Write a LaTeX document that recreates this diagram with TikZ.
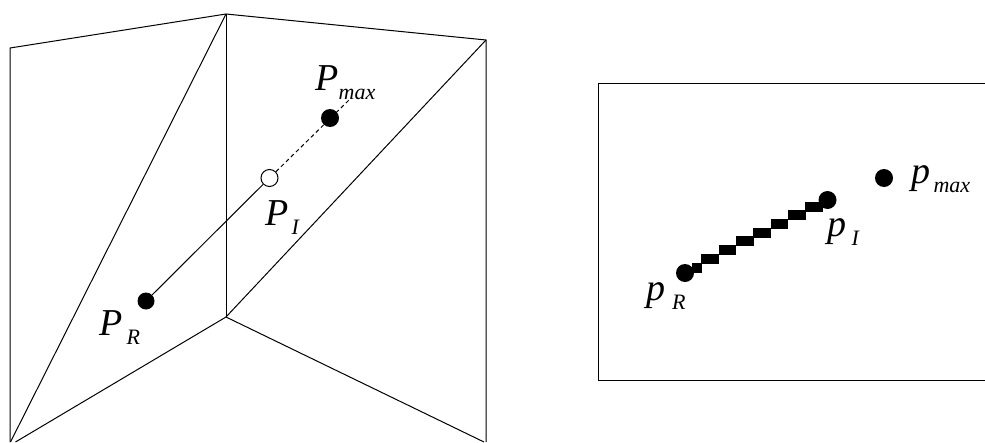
\documentclass[tikz,border=0pt]{standalone}
\usepackage{fontspec}
\setmainfont{Liberation Serif}
\newcommand{\lbl}[3]{\fontsize{38}{38}\selectfont\itshape #1\hspace{#3pt}\raisebox{-9pt}{\fontsize{22}{22}\selectfont #2}}
\tikzset{
  x=1pt,y=-1pt,
  wire/.style={draw=black,line width=1pt},
  thin wire/.style={draw=black,line width=1pt},
  dot/.style={circle,fill=black,inner sep=0pt,minimum size=18pt},
  small dot/.style={circle,fill=black,inner sep=0pt,minimum size=17pt},
  open dot/.style={circle,draw=black,fill=white,line width=1pt,inner sep=0pt,minimum size=17pt},
  lab/.style={anchor=base west,inner sep=0pt,outer sep=0pt},
  stair/.style={fill=black,draw=none}
}
\begin{document}
\begin{tikzpicture}
\useasboundingbox (0,0) rectangle (985,442);
% left panel corners
\coordinate (tl) at (10,48);
\coordinate (tm) at (226,14);
\coordinate (tr) at (486,40);
\coordinate (bl) at (10,442);
\coordinate (br) at (486,442);
\coordinate (c) at (226,317);
\coordinate (dbl) at (15.5,442);
\coordinate (dbr) at (484,442);
\draw[wire] (bl) -- (tl) -- (tm) -- (tr) -- (br);
\draw[wire] (tm) -- (c);
\draw[wire] (tm) -- (10.5,442);
\draw[wire] (c) -- (tr);
\draw[wire] (c) -- (dbl);
\draw[wire] (c) -- (dbr);
% ray
\node[dot] (Pmax) at (330,118) {};
\node[open dot] (PI) at (269.5,178) {};
\node[small dot] (PR) at (146,301) {};
\coordinate (rayend) at (349,100);
\draw[thin wire] (PR) -- (PI);
\draw[thin wire,dash pattern=on 4pt off 3pt] (PI) -- (rayend);
\node[lab] (Lmax) at (315.5,90) {\lbl{P}{max}{0}};
\node[lab] (LI) at (265.5,225) {\lbl{P}{I}{3}};
\node[lab] (LR) at (99.5,335) {\lbl{P}{R}{4}};
% right panel
\coordinate (a) at (985,83);
\coordinate (b) at (598,83);
\coordinate (d) at (598,380);
\coordinate (e) at (985,380);
\draw[wire] (a) -- (b) -- (d) -- (e);
% staircase
\fill[stair] (692.3,262.8) rectangle (701.7,272.8);
\foreach \k in {0,...,6}{
  \fill[stair] ({701.3+17.33*\k},{253.8-8.67*\k}) rectangle ++(17.8,10);
}
\node[dot] (pmax) at (884,178) {};
\node[dot] (pI) at (827.5,200) {};
\node[dot] (pR) at (685,273) {};
\node[lab] (lmax) at (911.5,183) {\lbl{p}{max}{3}};
\node[lab] (lI) at (827.5,236) {\lbl{p}{I}{5}};
\node[lab] (lR) at (646,300) {\lbl{p}{R}{7}};
\end{tikzpicture}
\end{document}
